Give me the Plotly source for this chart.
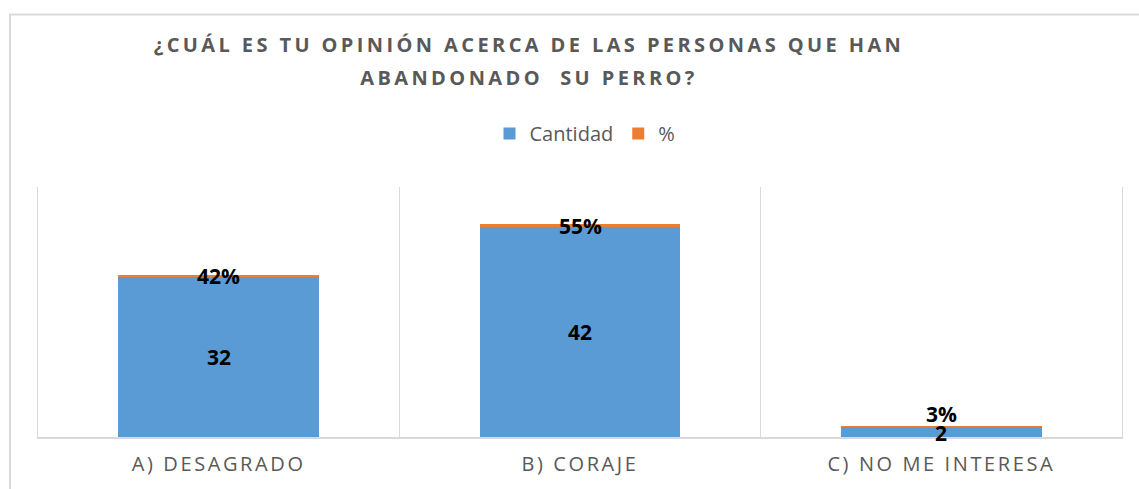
import plotly.graph_objects as go

categories = ["A) DESAGRADO", "B) CORAJE", "C) NO ME INTERESA"]
cantidad = [32, 42, 2]
porcentaje = [0.42, 0.55, 0.03]
pct_labels = ["42%", "55%", "3%"]
title_text = "¿CUÁL ES TU OPINIÓN ACERCA DE LAS PERSONAS QUE HAN<br>ABANDONADO  SU PERRO?"

BLUE = "#5B9BD5"
ORANGE = "#ED7D31"
GRAY = "#595959"
LINE = "#D9D9D9"

W, H = 1139, 489
L, R, T, B = 38, 17, 187, 50

fig = go.Figure()
fig.add_trace(go.Bar(name="Cantidad", x=categories, y=cantidad, marker=dict(color=BLUE, line=dict(width=0)), width=0.555))
fig.add_trace(go.Bar(name="%", x=categories, y=porcentaje, marker=dict(color=ORANGE, line=dict(width=0)), width=0.555))

lab_font = dict(family="Open Sans", size=21, color="#000000", weight="bold")
# data labels: value centred in the blue segment, percentage centred on the orange segment
val_shift = [0, 0, -1]
pct_shift = [0, 0, 13]
for cat, c, p, pl, vs, ps in zip(categories, cantidad, porcentaje, pct_labels, val_shift, pct_shift):
    fig.add_annotation(x=cat, y=c / 2, text=str(c), showarrow=False, font=lab_font,
                       yanchor="middle", yshift=vs)
    fig.add_annotation(x=cat, y=c + p / 2, text=pl, showarrow=False, font=lab_font,
                       yanchor="middle", yshift=ps)

pw = W - L - R
ph = H - T - B
fig.add_shape(type="rect", xref="paper", yref="paper",
              x0=(10 - L) / pw, x1=(W + 10 - L) / pw,
              y0=(H - B - (H + 10)) / ph, y1=(H - B - 13) / ph,
              line=dict(color=LINE, width=2), fillcolor="rgba(0,0,0,0)", layer="below")

fig.update_layout(
    width=W, height=H,
    margin=dict(l=L, r=R, t=T, b=B),
    paper_bgcolor="white", plot_bgcolor="white",
    barmode="stack",
    title=dict(text=title_text, x=529 / W, xanchor="center", xref="container",
               y=1 - 52 / H, yanchor="top", yref="container",
               font=dict(family="Open Sans", size=20, color=GRAY, weight="bold")),
    legend=dict(orientation="h", x=(585 - L) / pw, xanchor="center",
                y=(H - B - 133) / ph, yanchor="middle",
                font=dict(family="Open Sans", size=20, color=GRAY),
                traceorder="normal"),
    xaxis=dict(type="category", tickson="boundaries", showgrid=True, gridcolor=LINE, gridwidth=1,
               showline=True, linecolor=LINE, linewidth=2, ticks="", ticklabelstandoff=8,
               tickfont=dict(family="Open Sans", size=20, color=GRAY), fixedrange=True),
    yaxis=dict(range=[0, 50], showgrid=False, showticklabels=False, zeroline=False,
               showline=True, mirror=True, linecolor=LINE, linewidth=1,
               ticks="", fixedrange=True),
    showlegend=True,
)

post = """
document.body.style.margin = '0';
document.body.style.overflow = 'hidden';
var gd = document.getElementById('{plot_id}');
function fixText(){
  var t = gd.querySelector('.gtitle');
  if (t) {
    t.style.letterSpacing = '3.4px';
    var lines = t.querySelectorAll('tspan.line');
    for (var i = 1; i < lines.length; i++) { lines[i].setAttribute('dy', '1.65em'); }
  }
  gd.querySelectorAll('.xtick text').forEach(function(e){ e.style.letterSpacing = '2.6px'; });
}
fixText();
gd.on('plotly_afterplot', fixText);
"""

fig.write_html("out.html", post_script=post, config={"displayModeBar": False})
